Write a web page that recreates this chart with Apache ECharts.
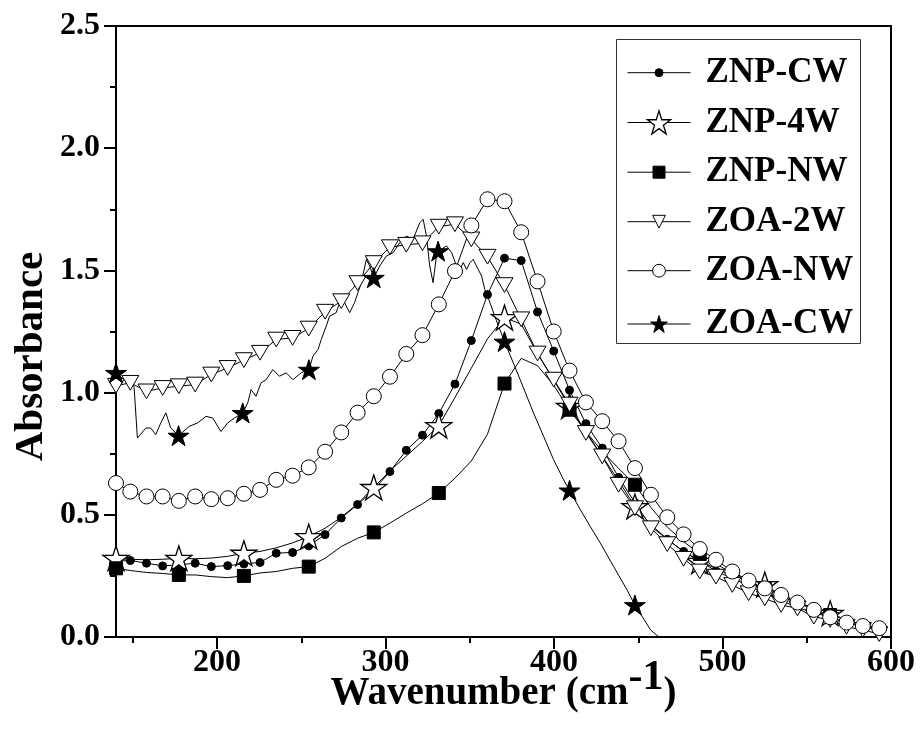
<!DOCTYPE html>
<html><head><meta charset="utf-8">
<script src="https://cdn.jsdelivr.net/npm/echarts@6/dist/echarts.min.js"></script>
<style>html,body{margin:0;padding:0;background:#fff}#c{width:920px;height:737px}</style>
</head><body><div id="c"></div>
<script>
// ---------------- data ----------------
const seriesNames = ['ZNP-CW', 'ZNP-4W', 'ZNP-NW', 'ZOA-2W', 'ZOA-NW', 'ZOA-CW'];

// common wavenumber sampling used by five of the spectra (cm-1)
const waveGrid = [140, 148.5, 158.1, 167.7, 177.3, 187.0, 196.6, 206.3, 215.9, 225.5,
  235.1, 244.8, 254.4, 264.1, 273.7, 283.4, 293.0, 302.6, 312.3, 321.9,
  331.6, 341.2, 350.9, 360.5, 370.6, 380.5, 390.2, 399.8, 409.2, 418.9,
  428.6, 438.3, 448.0, 457.5, 467.2, 476.9, 486.5, 496.1, 505.8, 515.5,
  525.1, 534.8, 544.5, 554.2, 563.9, 573.6, 583.3, 593.0];

const znpCw = [0.310, 0.313, 0.302, 0.291, 0.295, 0.302, 0.288, 0.292, 0.299, 0.305,
  0.343, 0.346, 0.373, 0.419, 0.487, 0.542, 0.602, 0.677, 0.764, 0.826,
  0.914, 1.035, 1.213, 1.401, 1.550, 1.540, 1.330, 1.170, 1.010, 0.873,
  0.773, 0.653, 0.550, 0.452, 0.400, 0.350, 0.310, 0.270, 0.240, 0.210,
  0.180, 0.150, 0.120, 0.100, 0.080, 0.060, 0.040, 0.030];

const znp4w = [0.322, 0.318, 0.316, 0.318, 0.322, 0.320, 0.323, 0.330, 0.343, 0.350,
  0.365, 0.385, 0.411, 0.445, 0.490, 0.545, 0.612, 0.680, 0.740, 0.800,
  0.865, 0.980, 1.100, 1.220, 1.307, 1.280, 1.160, 1.050, 0.944, 0.840,
  0.740, 0.640, 0.534, 0.460, 0.400, 0.350, 0.310, 0.280, 0.250, 0.230,
  0.215, 0.170, 0.140, 0.120, 0.097, 0.070, 0.050, 0.030];

const znpNw = [0.281, 0.272, 0.264, 0.260, 0.254, 0.254, 0.247, 0.243, 0.250, 0.262,
  0.268, 0.281, 0.288, 0.322, 0.370, 0.404, 0.428, 0.466, 0.507, 0.545,
  0.589, 0.650, 0.720, 0.830, 1.037, 1.140, 1.110, 1.030, 0.930, 0.840,
  0.760, 0.690, 0.623, 0.530, 0.450, 0.390, 0.340, 0.300, 0.260, 0.230,
  0.200, 0.170, 0.140, 0.120, 0.090, 0.070, 0.050, 0.030];

const zoa2w = [1.028, 1.040, 1.005, 1.019, 1.026, 1.033, 1.074, 1.101, 1.133, 1.163,
  1.217, 1.224, 1.262, 1.331, 1.374, 1.448, 1.530, 1.595, 1.605, 1.611,
  1.679, 1.689, 1.627, 1.556, 1.440, 1.300, 1.160, 1.053, 0.951, 0.835,
  0.739, 0.623, 0.527, 0.445, 0.380, 0.320, 0.268, 0.247, 0.213, 0.179,
  0.158, 0.131, 0.117, 0.083, 0.070, 0.042, 0.029, 0.012];

const zoaNw = [0.630, 0.595, 0.575, 0.575, 0.557, 0.575, 0.564, 0.568, 0.586, 0.602,
  0.643, 0.660, 0.694, 0.758, 0.837, 0.918, 0.985, 1.065, 1.158, 1.235,
  1.361, 1.497, 1.684, 1.791, 1.783, 1.656, 1.455, 1.250, 1.090, 0.960,
  0.883, 0.801, 0.691, 0.582, 0.490, 0.420, 0.360, 0.316, 0.268, 0.231,
  0.199, 0.172, 0.141, 0.111, 0.081, 0.059, 0.045, 0.036];

// ZOA-CW is a noisy trace with its own sampling
const zoaCwX = [140, 145, 150.7, 152.7, 157.7, 160.6, 163.6, 166.6, 169.6, 172.5,
  177.1, 183.5, 188.5, 193.4, 197.4, 202.3, 206.3, 210.3, 215.2, 218.2,
  220.2, 223.1, 226.1, 229.1, 233.1, 237.0, 241.0, 245.0, 249.9, 254.5,
  256.9, 259.9, 261.8, 264.8, 266.8, 270.7, 272.7, 274.7, 278.7, 281.6,
  283.6, 285.6, 288.6, 290.6, 293.0, 296.5, 300.5, 304.4, 308.4, 312.4,
  316.3, 320.3, 322.3, 324.3, 326.2, 328.2, 330.2, 331.2, 336.2, 339.2,
  342.1, 344.1, 346.1, 348.1, 350.1, 352.0, 355.0, 357.0, 358.9, 360.9,
  365.5, 370.6, 379.9, 387.8, 393.8, 399.7, 405.7, 409.2, 415.6, 421.5,
  427.5, 435.4, 443.3, 448.0, 457.3, 462.2];
const zoaCwY = [1.081, 1.050, 1.026, 0.814, 0.855, 0.855, 0.828, 0.876, 0.917, 0.855,
  0.824, 0.862, 0.876, 0.903, 0.896, 0.841, 0.876, 0.896, 0.917, 0.958,
  1.012, 0.985, 1.040, 1.053, 1.094, 1.067, 1.081, 1.053, 1.081, 1.094,
  1.149, 1.176, 1.217, 1.272, 1.313, 1.327, 1.368, 1.381, 1.327, 1.368,
  1.409, 1.450, 1.545, 1.518, 1.470, 1.518, 1.559, 1.572, 1.613, 1.641,
  1.627, 1.695, 1.709, 1.641, 1.518, 1.450, 1.559, 1.579, 1.600, 1.573,
  1.518, 1.504, 1.532, 1.504, 1.532, 1.545, 1.504, 1.477, 1.422, 1.388,
  1.300, 1.209, 1.053, 0.917, 0.821, 0.726, 0.643, 0.600, 0.521, 0.452,
  0.384, 0.288, 0.193, 0.131, 0.029, 0.000];
const zoaCwMarks = [140, 177.1, 215.2, 254.5, 293.0, 331.2, 370.6, 409.2, 448.0];

const xMajorTicks = [200, 300, 400, 500, 600];
const xMinorTicks = [150, 250, 350, 450, 550];

// ---------------- styling ----------------
const FONT = '"Liberation Serif", "Times New Roman", serif';
const STAR = 'path://M100,0 L122.45,69.1 L195.1,69.1 L136.3,111.8 L158.8,180.9 L100,138.2 L41.2,180.9 L63.7,111.8 L4.9,69.1 L77.55,69.1 Z';
const TRI_DOWN = 'path://M0,0 L100,0 L50,86.6 Z';

function buildData(xs, ys, showMark) {
  return xs.map((x, i) => showMark(i, x) ? [x, ys[i]] : { value: [x, ys[i]], symbol: 'none' });
}

const specs = [
  { name: 'ZNP-CW', xs: waveGrid, ys: znpCw, mark: (i) => true, symbol: 'circle', size: 8, fill: '#000', keep: false },
  { name: 'ZNP-4W', xs: waveGrid, ys: znp4w, mark: (i) => i % 4 === 0, symbol: STAR, size: 26, fill: '#fff', keep: true, bw: 1.3 },
  { name: 'ZNP-NW', xs: waveGrid, ys: znpNw, mark: (i) => i % 4 === 0, symbol: 'rect', size: 13, fill: '#000', keep: false },
  { name: 'ZOA-2W', xs: waveGrid, ys: zoa2w, mark: (i) => true, symbol: TRI_DOWN, size: 17, fill: '#fff', keep: true },
  { name: 'ZOA-NW', xs: waveGrid, ys: zoaNw, mark: (i) => true, symbol: 'circle', size: 15, fill: '#fff', keep: false },
  { name: 'ZOA-CW', xs: zoaCwX, ys: zoaCwY, mark: (i, x) => zoaCwMarks.indexOf(x) >= 0, symbol: STAR, size: 21, fill: '#000', keep: true }
];

const series = specs.map(s => ({
  name: s.name,
  type: 'line',
  data: buildData(s.xs, s.ys, s.mark),
  symbol: s.symbol,
  symbolSize: s.size,
  symbolKeepAspect: s.keep,
  showSymbol: true,
  smooth: false,
  lineStyle: { color: '#000', width: 1 },
  itemStyle: { color: s.fill, borderColor: '#000', borderWidth: s.bw || 1 },
  emphasis: { disabled: true },
  z: 2
}));

// legend rows: centre y and icon height (symbol is 0.8 of it)
const legendRows = [
  { cy: 72.7, h: 10 },
  { cy: 122.5, h: 29 },
  { cy: 172.2, h: 15 },
  { cy: 221.7, h: 16 },
  { cy: 270.7, h: 16 },
  { cy: 324, h: 21 }
];
const LEG_TEXT = 35;
const legends = seriesNames.map((nm, i) => {
  const r = legendRows[i];
  const boxH = Math.max(r.h, LEG_TEXT);
  return {
    data: [nm],
    left: 627,
    top: r.cy - boxH / 2,
    orient: 'vertical',
    padding: 0,
    itemWidth: 63,
    itemHeight: r.h,
    selectedMode: false,
    itemStyle: { borderWidth: specs[i].bw || 1 },
    lineStyle: { width: 1 },
    textStyle: { fontFamily: FONT, fontWeight: 'bold', fontSize: LEG_TEXT, lineHeight: LEG_TEXT, color: '#000', padding: [0, 0, 0, 10] }
  };
});

const chart = echarts.init(document.getElementById('c'), null, { renderer: 'canvas' });
chart.setOption({
  animation: false,
  backgroundColor: '#fff',
  grid: { left: 116, right: 29, top: 26, bottom: 100, containLabel: false, outerBoundsMode: 'none',
    show: true, borderColor: '#000', borderWidth: 2, backgroundColor: 'transparent' },
  legend: legends,
  xAxis: [{
    type: 'value', min: 140, max: 600,
    axisLine: { show: true, onZero: false, lineStyle: { color: '#000', width: 2 } },
    axisTick: { show: true, inside: false, length: 12, lineStyle: { color: '#000', width: 2 }, customValues: xMajorTicks },
    axisLabel: { customValues: xMajorTicks, margin: 10, color: '#000', fontFamily: FONT, fontWeight: 'bold', fontSize: 32 },
    splitLine: { show: false },
    name: '{a|Wavenumber (cm}{s|-1}{a|)}',
    nameLocation: 'middle',
    nameMoveOverlap: false,
    nameGap: 34,
    nameTextStyle: {
      rich: {
        a: { fontFamily: FONT, fontWeight: 'bold', fontSize: 39, lineHeight: 39, color: '#000', verticalAlign: 'bottom' },
        s: { fontFamily: FONT, fontWeight: 'bold', fontSize: 42, lineHeight: 42, color: '#000', verticalAlign: 'bottom', padding: [0, 0, 14, 0] }
      }
    }
  }, {
    type: 'value', min: 140, max: 600, position: 'bottom',
    axisLine: { show: false },
    axisTick: { show: true, inside: false, length: 6, lineStyle: { color: '#000', width: 2 }, customValues: xMinorTicks },
    axisLabel: { show: false },
    splitLine: { show: false }
  }],
  yAxis: {
    type: 'value', min: 0, max: 2.5, interval: 0.5,
    axisLine: { show: true, onZero: false, lineStyle: { color: '#000', width: 2 } },
    axisTick: { show: true, inside: false, length: 12, lineStyle: { color: '#000', width: 2 } },
    minorTick: { show: true, splitNumber: 2, length: 6, lineStyle: { color: '#000', width: 2 } },
    axisLabel: { margin: 16, color: '#000', fontFamily: FONT, fontWeight: 'bold', fontSize: 32, formatter: v => v.toFixed(1) },
    splitLine: { show: false },
    minorSplitLine: { show: false },
    name: 'Absorbance',
    nameLocation: 'middle',
    nameMoveOverlap: false,
    nameGap: 64,
    nameTextStyle: { fontFamily: FONT, fontWeight: 'bold', fontSize: 41, color: '#000', padding: [0, 50, 0, 0] }
  },
  graphic: [{
    type: 'rect', left: 614, top: 37, z: 0,
    shape: { width: 244, height: 304 },
    style: { fill: 'none', stroke: '#333', lineWidth: 1 }
  }],
  series: series
});
</script></body></html>
